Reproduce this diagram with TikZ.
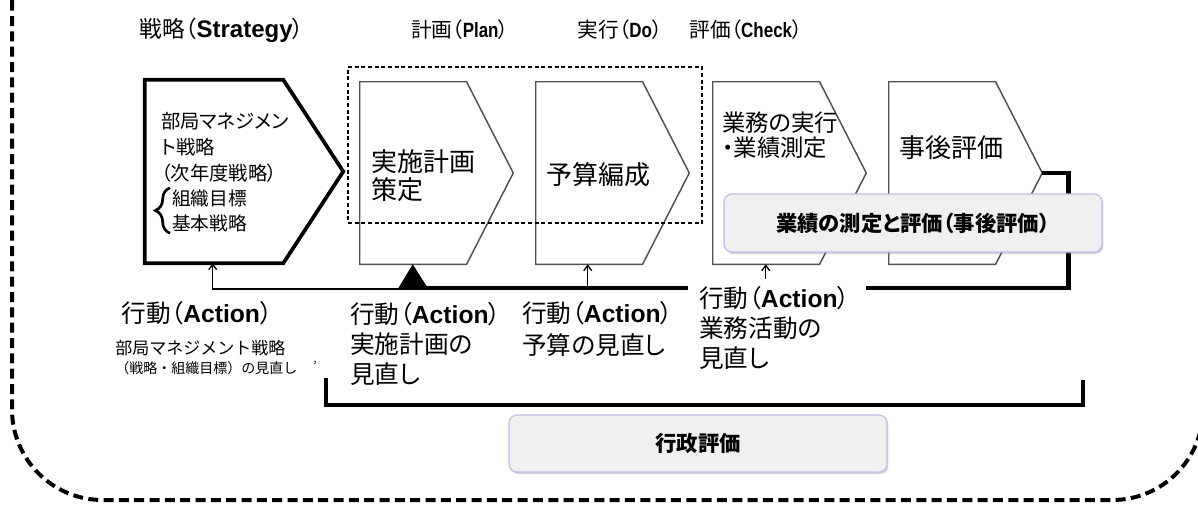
\documentclass[tikz,border=0pt]{standalone}
\usepackage{fontspec}
\setmainfont{Noto Sans CJK JP}
\newfontfamily\pfont[RawFeature=+palt]{Noto Sans CJK JP}
\newfontfamily\latfont{Liberation Sans}
\newfontfamily\latnarrow[FakeStretch=0.82]{Liberation Sans}
\newcommand\en[1]{{\latfont\bfseries #1}}
\newcommand\enn[1]{{\latnarrow\bfseries #1}}
\usetikzlibrary{arrows.meta,shadows,decorations.pathreplacing,fit}
\definecolor{boxline}{RGB}{190,190,235}
\definecolor{boxfill}{RGB}{240,240,240}
\definecolor{chevline}{RGB}{80,80,80}
\begin{document}
\begin{tikzpicture}[x=0.75pt,y=-0.75pt,
  chev/.style={draw=chevline, line width=1.1pt, fill=white, line join=miter},
  stratbox/.style={draw=black, line width=2.8pt, fill=white, line join=miter},
  lbl/.style={inner sep=0pt, align=left, anchor=west},
  body/.style={inner sep=0pt},
  thinarrow/.style={line width=1pt, -{Straight Barb[length=4pt,width=6pt]}},
  bar/.style={line width=3.6pt, line join=miter},
  rbox/.style={draw=boxline, line width=0.9pt, fill=boxfill, rounded corners=6pt,
     drop shadow={shadow xshift=1pt, shadow yshift=-1.5pt, opacity=0.35},
     font=\pfont\fontsize{16pt}{19pt}\selectfont\bfseries},
  ttl/.style={inner sep=0pt, font=\pfont\fontsize{15.5pt}{18pt}\selectfont},
  act/.style={lbl, font=\pfont\fontsize{18.5pt}{22.5pt}\selectfont},
]
\useasboundingbox (0,0) rectangle (1198,504);
\clip (0,0) rectangle (1198,504);
% outer dashed frame
\draw[line width=3pt, dash pattern=on 7.5pt off 4pt, rounded corners=68pt] (12,-90) rectangle (1203,500);

% titles
\node[ttl, font=\pfont\fontsize{17pt}{18pt}\selectfont] (t1) at (222,30) {戦略（{\fontsize{18pt}{18pt}\selectfont\en{Strategy}}）};
\node[ttl] (t2) at (460,30) {計画（\enn{Plan}）};
\node[ttl] (t3) at (620,30) {実行（\enn{Do}）};
\node[ttl] (t4) at (746,30) {評価（\enn{Check}）};

% chevron bodies
\node[body, fit={(145,80) (343,263)}] (s) {};
\node[body, fit={(360,82) (513,264)}] (b2) {};
\node[body, fit={(536,82) (689,264)}] (b3) {};
\node[body, fit={(713,82) (866,264)}] (b4) {};
\node[body, fit={(889,82) (1042,264)}] (b5) {};

\draw[stratbox] (s.north west) -- ([xshift=-45pt]s.north east) -- (s.east) -- ([xshift=-45pt]s.south east) -- (s.south west) -- cycle;
\foreach \b in {b2,b3,b4,b5}{
  \draw[chev] (\b.north west) -- ([xshift=-35pt]\b.north east) -- (\b.east) -- ([xshift=-35pt]\b.south east) -- (\b.south west) -- cycle;
}

% plan dashed frame
\node[fit={(348,67) (702,223)}, inner sep=0pt, draw, line width=0.8pt, dash pattern=on 3pt off 2pt] (plan) {};

% texts in chevrons
\node[lbl, font=\pfont\fontsize{14.5pt}{19.5pt}\selectfont] (st1) at (161,147) {部局マネジメン\\ト戦略\\（次年度戦略）};
\node[lbl, font=\fontsize{14pt}{18.75pt}\selectfont] (st2) at (172,210.5) {組織目標\\基本戦略};
\draw[line width=2pt, decorate, decoration={brace, amplitude=11pt}] ([xshift=-1.5pt,yshift=-1pt]st2.south west) -- ([xshift=-1.5pt,yshift=1pt]st2.north west);
\node[lbl, font=\fontsize{19.5pt}{21pt}\selectfont] (x2) at (371,176) {実施計画\\策定};
\node[lbl, font=\fontsize{19.5pt}{21pt}\selectfont] (x3) at (546,175) {予算編成};
\node[lbl, font=\pfont\fontsize{17.5pt}{18.75pt}\selectfont] (x4) at (722,135.5) {業務の実行\\・業績測定};
\node[lbl, font=\fontsize{19.5pt}{21pt}\selectfont] (x5) at (899,148) {事後評価};

% action labels
\node[act, anchor=center] (a1) at (197,313) {行動（\en{Action}）};
\node[lbl, font=\fontsize{12.75pt}{15pt}\selectfont] (a1b) at (115,348) {部局マネジメント戦略};
\node[lbl, font=\fontsize{10.5pt}{12pt}\selectfont] (a1c) at (115,368) {（戦略・組織目標）の見直し};
\node[lbl, font=\fontsize{9pt}{10pt}\selectfont] (a1d) at (313,366) {’};
\node[act] (a2) at (350,343.7) {行動（\en{Action}）\\実施計画の\\見直し};
\node[act, font=\pfont\fontsize{18.5pt}{24pt}\selectfont] (a3) at (522,329) {行動（\en{Action}）\\予算の見直し};
\node[act] (a4) at (699,328) {行動（\en{Action}）\\業務活動の\\見直し};

% connectors
\coordinate (j) at (413,289);
\coordinate (k1) at (400,288);
\coordinate (k2) at (688,288);
\coordinate (k3) at (866,288);
\draw[line width=1pt] (j) -| ([xshift=51pt]s.south west);
\draw[thinarrow] ([xshift=51pt]s.south west |- j) -- ([xshift=51pt]s.south west);
\draw[bar] (k1) -- (k2);
\draw[line width=1pt, -{Triangle[length=18pt,width=22pt]}] (j) -- ([xshift=39.75pt]b2.south west);
\draw[thinarrow] ([xshift=39pt]b3.south west |- k1) -- ([xshift=39pt]b3.south west);
\draw[thinarrow] ([xshift=39.75pt,yshift=-11pt]b4.south west) -- ([xshift=39.75pt]b4.south west);
\draw[bar] (b5.east) -- ++(26,0) |- (k3);

% bottom bracket
\coordinate (g1) at (326,378);
\coordinate (g2) at (1083,380);
\draw[line width=3pt, line join=miter] (g1) |- (1083,405) -- (g2);

% rounded label boxes
\node[rbox, minimum width=283.5pt, minimum height=43.5pt] (m) at (913,223) {業績の測定と評価（事後評価）};
\node[rbox, minimum width=283.5pt, minimum height=42.75pt] (g) at (698,443.5) {行政評価};
\end{tikzpicture}
\end{document}
